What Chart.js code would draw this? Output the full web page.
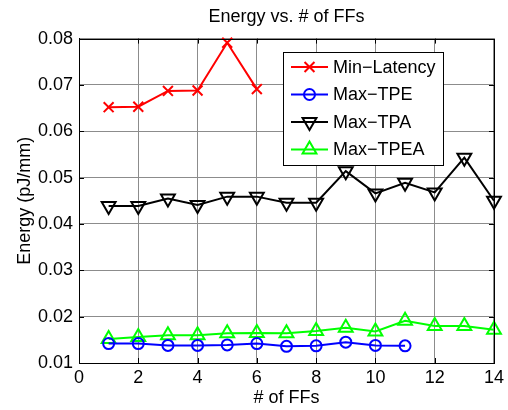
<!DOCTYPE html>
<html>
<head>
<meta charset="utf-8">
<script src="https://cdn.jsdelivr.net/npm/chart.js"></script>
<style>
  body { margin: 0; background: #fff; }
  #wrap { width: 508px; height: 410px; }
</style>
</head>
<body>
<div id="wrap"><canvas id="energyChart" width="508" height="410"></canvas></div>
<script>
// values
const ffCounts = [1, 2, 3, 4, 5, 6, 7, 8, 9, 10, 11, 12, 13, 14];
const minLatency = [0.0652, 0.0653, 0.0687, 0.0688, 0.0791, 0.0691];
const maxTPE = [0.0142, 0.0142, 0.0138, 0.0138, 0.0139, 0.0142, 0.0136, 0.0137, 0.0145, 0.0138, 0.0137];
const maxTPA = [0.0439, 0.0439, 0.0455, 0.0441, 0.0459, 0.0459, 0.0446, 0.0446, 0.0514, 0.0466, 0.0489, 0.0468, 0.0543, 0.0450];
const maxTPEA = [0.0152, 0.0156, 0.0160, 0.0160, 0.0164, 0.0165, 0.0164, 0.0169, 0.0176, 0.0168, 0.0191, 0.0180, 0.0180, 0.0172];
const seriesNames = ['Min\u2212Latency', 'Max\u2212TPE', 'Max\u2212TPA', 'Max\u2212TPEA'];
const xTicks = [0, 2, 4, 6, 8, 10, 12, 14];
const yTicks = [0.01, 0.02, 0.03, 0.04, 0.05, 0.06, 0.07, 0.08];

const FONT = 'Liberation Sans, Arial, Helvetica, sans-serif';

function toPoints(values) {
    return values.map((v, i) => ({ x: ffCounts[i], y: v }));
}

const styles = [
    { color: '#ff0000', pointStyle: 'crossRot', radius: 7, rotation: 0 },
    { color: '#0000ff', pointStyle: 'circle', radius: 5.5, rotation: 0 },
    { color: '#000000', pointStyle: 'triangle', radius: 8, rotation: 180 },
    { color: '#00ff00', pointStyle: 'triangle', radius: 8, rotation: 0 }
];
const seriesValues = [minLatency, maxTPE, maxTPA, maxTPEA];

const datasets = seriesValues.map((vals, i) => ({
    label: seriesNames[i],
    data: toPoints(vals),
    borderColor: styles[i].color,
    backgroundColor: 'rgba(0,0,0,0)',
    borderWidth: 2,
    pointStyle: styles[i].pointStyle,
    pointRadius: styles[i].radius,
    pointRotation: styles[i].rotation,
    pointBorderColor: styles[i].color,
    pointBackgroundColor: 'rgba(0,0,0,0)',
    pointBorderWidth: 2,
    tension: 0,
    clip: false
}));

function drawMarker(ctx, style, x, y) {
    const r = style.radius;
    ctx.save();
    ctx.strokeStyle = style.color;
    ctx.lineWidth = 2;
    ctx.beginPath();
    if (style.pointStyle === 'circle') {
        ctx.arc(x, y, r, 0, Math.PI * 2);
    } else if (style.pointStyle === 'crossRot') {
        const d = r * Math.SQRT1_2;
        ctx.moveTo(x - d, y - d); ctx.lineTo(x + d, y + d);
        ctx.moveTo(x + d, y - d); ctx.lineTo(x - d, y + d);
    } else {
        let rad = style.rotation * Math.PI / 180;
        ctx.moveTo(x + Math.sin(rad) * r, y - Math.cos(rad) * r);
        for (let k = 0; k < 2; k++) {
            rad += 2 * Math.PI / 3;
            ctx.lineTo(x + Math.sin(rad) * r, y - Math.cos(rad) * r);
        }
        ctx.closePath();
    }
    ctx.stroke();
    ctx.restore();
}

// MATLAB style box, inward ticks and legend inside the axes
const matlabFrame = {
    id: 'matlabFrame',
    afterDraw(chart) {
        const { ctx, chartArea: a, scales } = chart;
        ctx.save();
        ctx.strokeStyle = '#000';
        ctx.lineWidth = 1;
        ctx.strokeRect(Math.round(a.left) + 0.5, Math.round(a.top) + 0.5,
            Math.round(a.right - a.left), Math.round(a.bottom - a.top));
        ctx.beginPath();
        xTicks.forEach(t => {
            const px = Math.round(scales.x.getPixelForValue(t)) + 0.5;
            ctx.moveTo(px, a.bottom); ctx.lineTo(px, a.bottom - 5);
            ctx.moveTo(px, a.top); ctx.lineTo(px, a.top + 5);
        });
        yTicks.forEach(t => {
            const py = Math.round(scales.y.getPixelForValue(t)) + 0.5;
            ctx.moveTo(a.left, py); ctx.lineTo(a.left + 5, py);
            ctx.moveTo(a.right, py); ctx.lineTo(a.right - 5, py);
        });
        ctx.stroke();

        // legend
        const bx = 283.5, by = 52.5, bw = 160, bh = 113;
        ctx.fillStyle = '#fff';
        ctx.fillRect(bx, by, bw, bh);
        ctx.strokeRect(bx, by, bw, bh);
        ctx.font = '18px ' + FONT;
        ctx.textBaseline = 'middle';
        ctx.textAlign = 'left';
        seriesNames.forEach((name, i) => {
            const y = 67 + i * 27.5;
            ctx.strokeStyle = styles[i].color;
            ctx.lineWidth = 2;
            ctx.beginPath();
            ctx.moveTo(291, y); ctx.lineTo(328, y);
            ctx.stroke();
            drawMarker(ctx, styles[i], 309.5, y);
            ctx.fillStyle = '#000';
            ctx.fillText(name, 333, y + 1);
        });
        ctx.restore();
    }
};

Chart.defaults.color = '#000';
Chart.defaults.font.family = FONT;
Chart.defaults.font.size = 18;

new Chart(document.getElementById('energyChart').getContext('2d'), {
    type: 'line',
    data: { datasets },
    options: {
        responsive: false,
        animation: false,
        layout: { padding: { left: 0, right: 13, top: 0, bottom: 0 } },
        plugins: {
            legend: { display: false },
            tooltip: { enabled: false },
            title: {
                display: true,
                text: 'Energy vs. # of FFs',
                fullSize: false,
                font: { size: 18, weight: 'normal' },
                padding: { top: 6, bottom: 11 }
            }
        },
        scales: {
            x: {
                type: 'linear',
                min: 0,
                max: 14,
                afterBuildTicks: s => { s.ticks = xTicks.map(v => ({ value: v })); },
                afterFit: s => { s.height = 47; },
                ticks: { padding: 4, callback: v => String(v) },
                grid: { color: '#8c8c8c', borderDash: [1, 3], drawTicks: false, lineWidth: 1 },
                border: { display: true, color: '#000', width: 1 },
                title: { display: true, text: '# of FFs', padding: { top: 0, bottom: 1 } }
            },
            y: {
                type: 'linear',
                min: 0.01,
                max: 0.08,
                afterBuildTicks: s => { s.ticks = yTicks.map(v => ({ value: v })); },
                afterFit: s => { s.width = 79; },
                ticks: { padding: 6, callback: v => v.toFixed(2) },
                grid: { color: '#8c8c8c', borderDash: [1, 3], drawTicks: false, lineWidth: 1 },
                border: { display: true, color: '#000', width: 1 },
                title: { display: true, text: 'Energy (pJ/mm)', padding: { top: 14, bottom: 0 } }
            }
        }
    },
    plugins: [matlabFrame]
});
</script>
</body>
</html>
